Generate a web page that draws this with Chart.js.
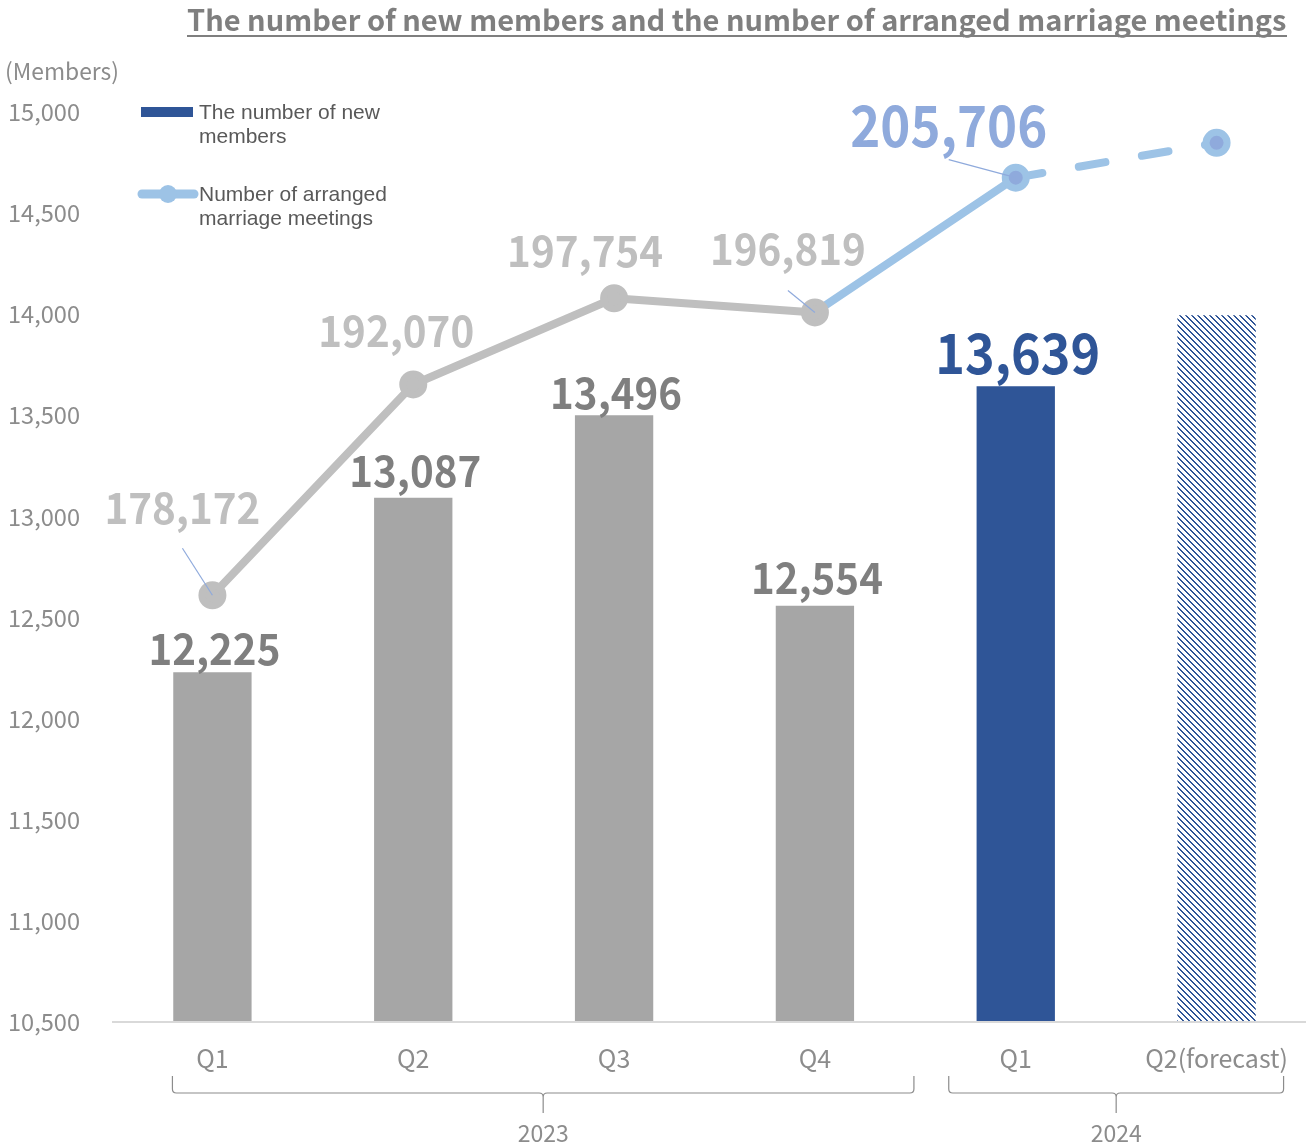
<!DOCTYPE html>
<html>
<head>
<meta charset="utf-8">
<script src="https://cdn.jsdelivr.net/npm/chart.js@4.4.1/dist/chart.umd.min.js"></script>
<style>
  html, body { margin: 0; padding: 0; background: #fff; overflow: hidden; }
  #wrap { position: relative; width: 1320px; height: 1145px; }
</style>
</head>
<body>
<div id="wrap"><canvas id="chart" width="1320" height="1145"></canvas></div>
<script>
// ---- data ----
const quarters = ['Q1', 'Q2', 'Q3', 'Q4', 'Q1', 'Q2(forecast)'];
const years = ['2023', '2024'];
const yearFirstIdx = [0, 4];
const yearLastIdx = [3, 5];
const newMembers = [12225, 13087, 13496, 12554, 13639, 13990];
const meetings = [178172, 192070, 197754, 196819, 205706, 208000];
const memberTicks = [10500, 11000, 11500, 12000, 12500, 13000, 13500, 14000, 14500, 15000];

const TITLE = 'The number of new members and the number of arranged marriage meetings';
const NUM_FONT = '"Noto Sans CJK JP", "Noto Sans", sans-serif';
const GRAY_TEXT = '#8C8C8C';

// hatch pattern for the forecast bar
function hatch() {
  const n = 6;
  const c = document.createElement('canvas');
  c.width = n; c.height = n;
  const g = c.getContext('2d');
  g.fillStyle = '#fff';
  g.fillRect(0, 0, n, n);
  g.fillStyle = '#2F5597';
  for (let y = 0; y < n; y++) {
    for (let x = 0; x < n; x++) {
      const d = ((x - y) % n + n) % n;
      if (d === 0 || d === 1) g.fillRect(x, y, 1, 1);
    }
  }
  return g.createPattern(c, 'repeat');
}

const barColors = ['#A6A6A6', '#A6A6A6', '#A6A6A6', '#A6A6A6', '#2F5597', hatch()];
const pointFill = ['#BFBFBF', '#BFBFBF', '#BFBFBF', '#BFBFBF', '#8FAADC', '#8FAADC'];
const pointRing = ['#BFBFBF', '#BFBFBF', '#BFBFBF', '#BFBFBF', '#9DC3E6', '#9DC3E6'];

// label styling (offsets from the mark, not data)
const barLabelGap = [7, 11, 6, 12, 12];
const barLabelStyle = [
  { size: 43, w: 132, color: '#7F7F7F' },
  { size: 43, w: 132, color: '#7F7F7F' },
  { size: 43, w: 132, color: '#7F7F7F' },
  { size: 43, w: 132, color: '#7F7F7F' },
  { size: 56, w: 165, color: '#2F5597' }
];
const lineLabelOff = [[-30, -71], [-17, -37], [-29, -31], [-27, -47], [-67, -31]];
const lineLabelStyle = [
  { size: 43, w: 156, color: '#BFBFBF' },
  { size: 43, w: 156, color: '#BFBFBF' },
  { size: 43, w: 156, color: '#BFBFBF' },
  { size: 43, w: 156, color: '#BFBFBF' },
  { size: 57, w: 197, color: '#8FAADC' }
];
const leaders = { 0: [-30, -47], 3: [-27, -22], 4: [-67, -18] };

const fmt = v => v.toLocaleString('en-US');

const decor = {
  id: 'decor',
  beforeDraw(chart) {
    const ctx = chart.ctx;
    const xs = chart.scales.x, ys = chart.scales.y;
    const area = chart.chartArea;
    ctx.save();

    // title
    ctx.fillStyle = '#7F7F7F';
    ctx.font = 'bold 29px ' + NUM_FONT;
    ctx.textAlign = 'left';
    ctx.textBaseline = 'alphabetic';
    ctx.fillText(TITLE, 187, 31, 1100);
    ctx.fillRect(187, 35, 1100, 2);

    // unit
    ctx.fillStyle = GRAY_TEXT;
    ctx.font = '23px ' + NUM_FONT;
    ctx.fillText('(Members)', 5, 80, 114);

    // y ticks
    ctx.font = '24px ' + NUM_FONT;
    ctx.textAlign = 'right';
    ctx.textBaseline = 'middle';
    memberTicks.forEach(t => {
      ctx.fillText(fmt(t), 80, ys.getPixelForValue(t) + 1, 72);
    });

    // x axis line
    ctx.fillStyle = '#D9D9D9';
    ctx.fillRect(112, area.bottom, 1200, 2);

    // category labels
    ctx.fillStyle = GRAY_TEXT;
    ctx.font = '25px ' + NUM_FONT;
    ctx.textAlign = 'center';
    quarters.forEach((q, i) => {
      ctx.fillText(q, xs.getPixelForValue(i), 1058, i === 5 ? 151 : 40);
    });

    // year brackets
    ctx.strokeStyle = '#8C8C8C';
    ctx.lineWidth = 1.2;
    const ext = [[-40, 99], [-67, 67]];
    years.forEach((yr, k) => {
      const x1 = xs.getPixelForValue(yearFirstIdx[k]) + ext[k][0];
      const x2 = xs.getPixelForValue(yearLastIdx[k]) + ext[k][1];
      const xm = (x1 + x2) / 2;
      const top = 1076, bar = 1093, r = 4;
      ctx.beginPath();
      ctx.moveTo(x1, top);
      ctx.lineTo(x1, bar - r);
      ctx.quadraticCurveTo(x1, bar, x1 + r, bar);
      ctx.lineTo(xm - r, bar);
      ctx.quadraticCurveTo(xm, bar, xm, bar + r);
      ctx.lineTo(xm, 1113);
      ctx.moveTo(xm, bar + r);
      ctx.quadraticCurveTo(xm, bar, xm + r, bar);
      ctx.lineTo(x2 - r, bar);
      ctx.quadraticCurveTo(x2, bar, x2, bar - r);
      ctx.lineTo(x2, top);
      ctx.stroke();
      ctx.font = '23px ' + NUM_FONT;
      ctx.fillText(yr, xm, 1133);
    });

    // legend
    ctx.fillStyle = '#2F5597';
    ctx.fillRect(141, 107, 52, 10);
    ctx.strokeStyle = '#9DC3E6';
    ctx.lineWidth = 9;
    ctx.lineCap = 'round';
    ctx.beginPath();
    ctx.moveTo(142, 194);
    ctx.lineTo(194, 194);
    ctx.stroke();
    ctx.fillStyle = '#9DC3E6';
    ctx.beginPath();
    ctx.arc(168, 194, 9, 0, Math.PI * 2);
    ctx.fill();
    ctx.fillStyle = '#595959';
    ctx.font = '21px "Liberation Sans", Arial, sans-serif';
    ctx.textAlign = 'left';
    ctx.textBaseline = 'alphabetic';
    ctx.fillText('The number of new', 199, 119);
    ctx.fillText('members', 199, 143);
    ctx.fillText('Number of arranged', 199, 201);
    ctx.fillText('marriage meetings', 199, 225);

    ctx.restore();
  },
  afterDatasetsDraw(chart) {
    const ctx = chart.ctx;
    const bars = chart.getDatasetMeta(0).data;
    const pts = chart.getDatasetMeta(1).data;
    ctx.save();
    ctx.textAlign = 'center';
    ctx.textBaseline = 'alphabetic';

    // bar value labels
    barLabelStyle.forEach((s, i) => {
      const b = bars[i];
      ctx.fillStyle = s.color;
      ctx.font = 'bold ' + s.size + 'px ' + NUM_FONT;
      ctx.fillText(fmt(newMembers[i]), b.x + 2, b.y - barLabelGap[i], s.w);
    });

    // leader lines
    ctx.strokeStyle = '#8FAADC';
    ctx.lineWidth = 1.2;
    Object.keys(leaders).forEach(k => {
      const p = pts[k];
      ctx.beginPath();
      ctx.moveTo(p.x + leaders[k][0], p.y + leaders[k][1]);
      ctx.lineTo(p.x, p.y);
      ctx.stroke();
    });

    // line value labels
    lineLabelStyle.forEach((s, i) => {
      const p = pts[i];
      ctx.fillStyle = s.color;
      ctx.font = 'bold ' + s.size + 'px ' + NUM_FONT;
      ctx.fillText(fmt(meetings[i]), p.x + lineLabelOff[i][0], p.y + lineLabelOff[i][1], s.w);
    });
    ctx.restore();
  }
};

new Chart(document.getElementById('chart'), {
  data: {
    labels: quarters,
    datasets: [
      {
        type: 'bar',
        label: 'The number of new members',
        data: newMembers,
        backgroundColor: barColors,
        barPercentage: 0.39,
        categoryPercentage: 1,
        yAxisID: 'y',
        order: 1
      },
      {
        type: 'line',
        label: 'Number of arranged marriage meetings',
        data: meetings,
        yAxisID: 'y2',
        order: 0,
        borderWidth: 8,
        borderCapStyle: 'round',
        borderJoinStyle: 'round',
        tension: 0,
        pointRadius: 10.5,
        pointBorderWidth: 7,
        pointBackgroundColor: pointFill,
        pointBorderColor: pointRing,
        segment: {
          borderColor: c => c.p0DataIndex < 3 ? '#BFBFBF' : '#9DC3E6',
          borderDash: c => c.p0DataIndex === 4 ? [27, 37] : undefined
        }
      }
    ]
  },
  options: {
    responsive: false,
    animation: false,
    layout: { autoPadding: false, padding: { left: 112, right: 3, top: 111, bottom: 124 } },
    plugins: { legend: { display: false }, tooltip: { enabled: false } },
    scales: {
      x: { display: false, offset: true },
      y: { display: false, min: 10500, max: 15000 },
      y2: { display: false, min: 150100, max: 210100 }
    }
  },
  plugins: [decor]
});
</script>
</body>
</html>
